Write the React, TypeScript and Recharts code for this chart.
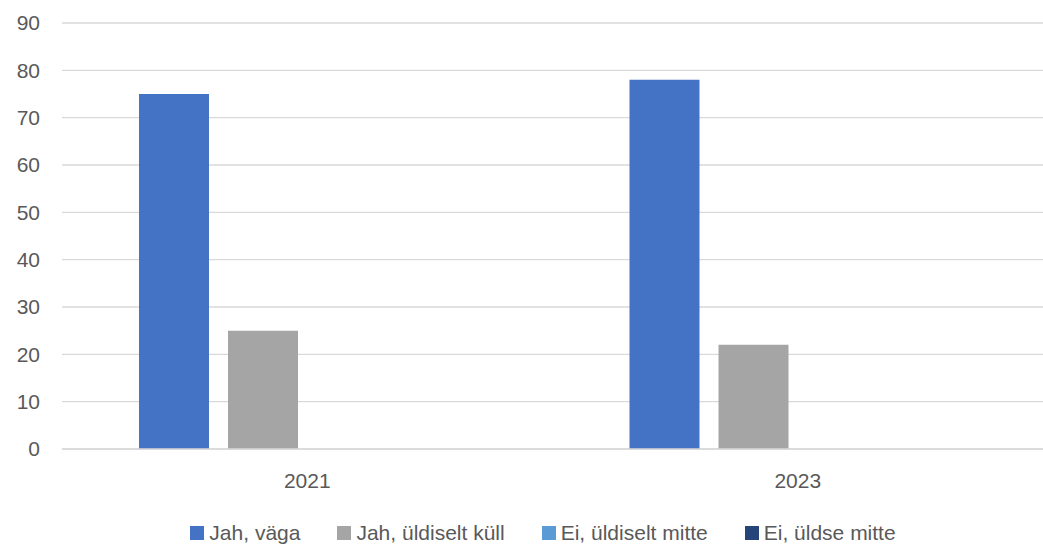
import { BarChart, Bar, XAxis, YAxis, CartesianGrid, Legend } from 'recharts';

const years = ['2021', '2023'];
const jahVaga = [75, 78];
const jahYldiseltKull = [25, 22];
const eiYldiseltMitte = [0, 0];
const eiYldseMitte = [0, 0];
const yTicks = [0, 10, 20, 30, 40, 50, 60, 70, 80, 90];

const series = [
  { key: 'jahVaga', name: 'Jah, väga', color: '#4472c4' },
  { key: 'jahYldiseltKull', name: 'Jah, üldiselt küll', color: '#a5a5a5' },
  { key: 'eiYldiseltMitte', name: 'Ei, üldiselt mitte', color: '#5b9bd5' },
  { key: 'eiYldseMitte', name: 'Ei, üldse mitte', color: '#264478' },
];

const data = years.map((year, i) => ({
  year,
  jahVaga: jahVaga[i],
  jahYldiseltKull: jahYldiseltKull[i],
  eiYldiseltMitte: eiYldiseltMitte[i],
  eiYldseMitte: eiYldseMitte[i],
}));

const FONT = '"Liberation Sans", Arial, sans-serif';
const TEXT = '#595959';

function LegendContent() {
  return (
    <div
      style={{
        display: 'flex',
        justifyContent: 'center',
        gap: 37,
        fontFamily: FONT,
        fontSize: 21,
        lineHeight: '24px',
        color: TEXT,
        paddingLeft: 43,
      }}
    >
      {series.map((s) => (
        <div key={s.key} style={{ display: 'flex', alignItems: 'center' }}>
          <span style={{ width: 14, height: 14, background: s.color, marginRight: 5, display: 'inline-block' }} />
          <span>{s.name}</span>
        </div>
      ))}
    </div>
  );
}

export default function App() {
  return (
    <div style={{ position: 'absolute', left: 0, top: 0, width: 1043, height: 545, background: '#fff' }}>
      <BarChart
        width={1043}
        height={545}
        data={data}
        margin={{ top: 23, right: 0, left: 0, bottom: 22 }}
        barCategoryGap={77}
        barGap={19}
      >
        <CartesianGrid vertical={false} stroke="#d9d9d9" strokeWidth={1.3} />
        <XAxis
          dataKey="year"
          axisLine={{ stroke: '#d9d9d9', strokeWidth: 1.3 }}
          tickLine={false}
          tick={{ fill: TEXT, fontSize: 21, fontFamily: FONT }}
          tickMargin={18}
          height={50}
        />
        <YAxis
          domain={[0, 90]}
          ticks={yTicks}
          axisLine={false}
          tickLine={false}
          width={62}
          tick={{ fill: TEXT, fontSize: 21, fontFamily: FONT }}
          tickMargin={16}
        />
        <Legend content={<LegendContent />} verticalAlign="bottom" wrapperStyle={{ bottom: 0 }} />
        {series.map((s) => (
          <Bar key={s.key} dataKey={s.key} name={s.name} fill={s.color} isAnimationActive={false} />
        ))}
      </BarChart>
    </div>
  );
}
